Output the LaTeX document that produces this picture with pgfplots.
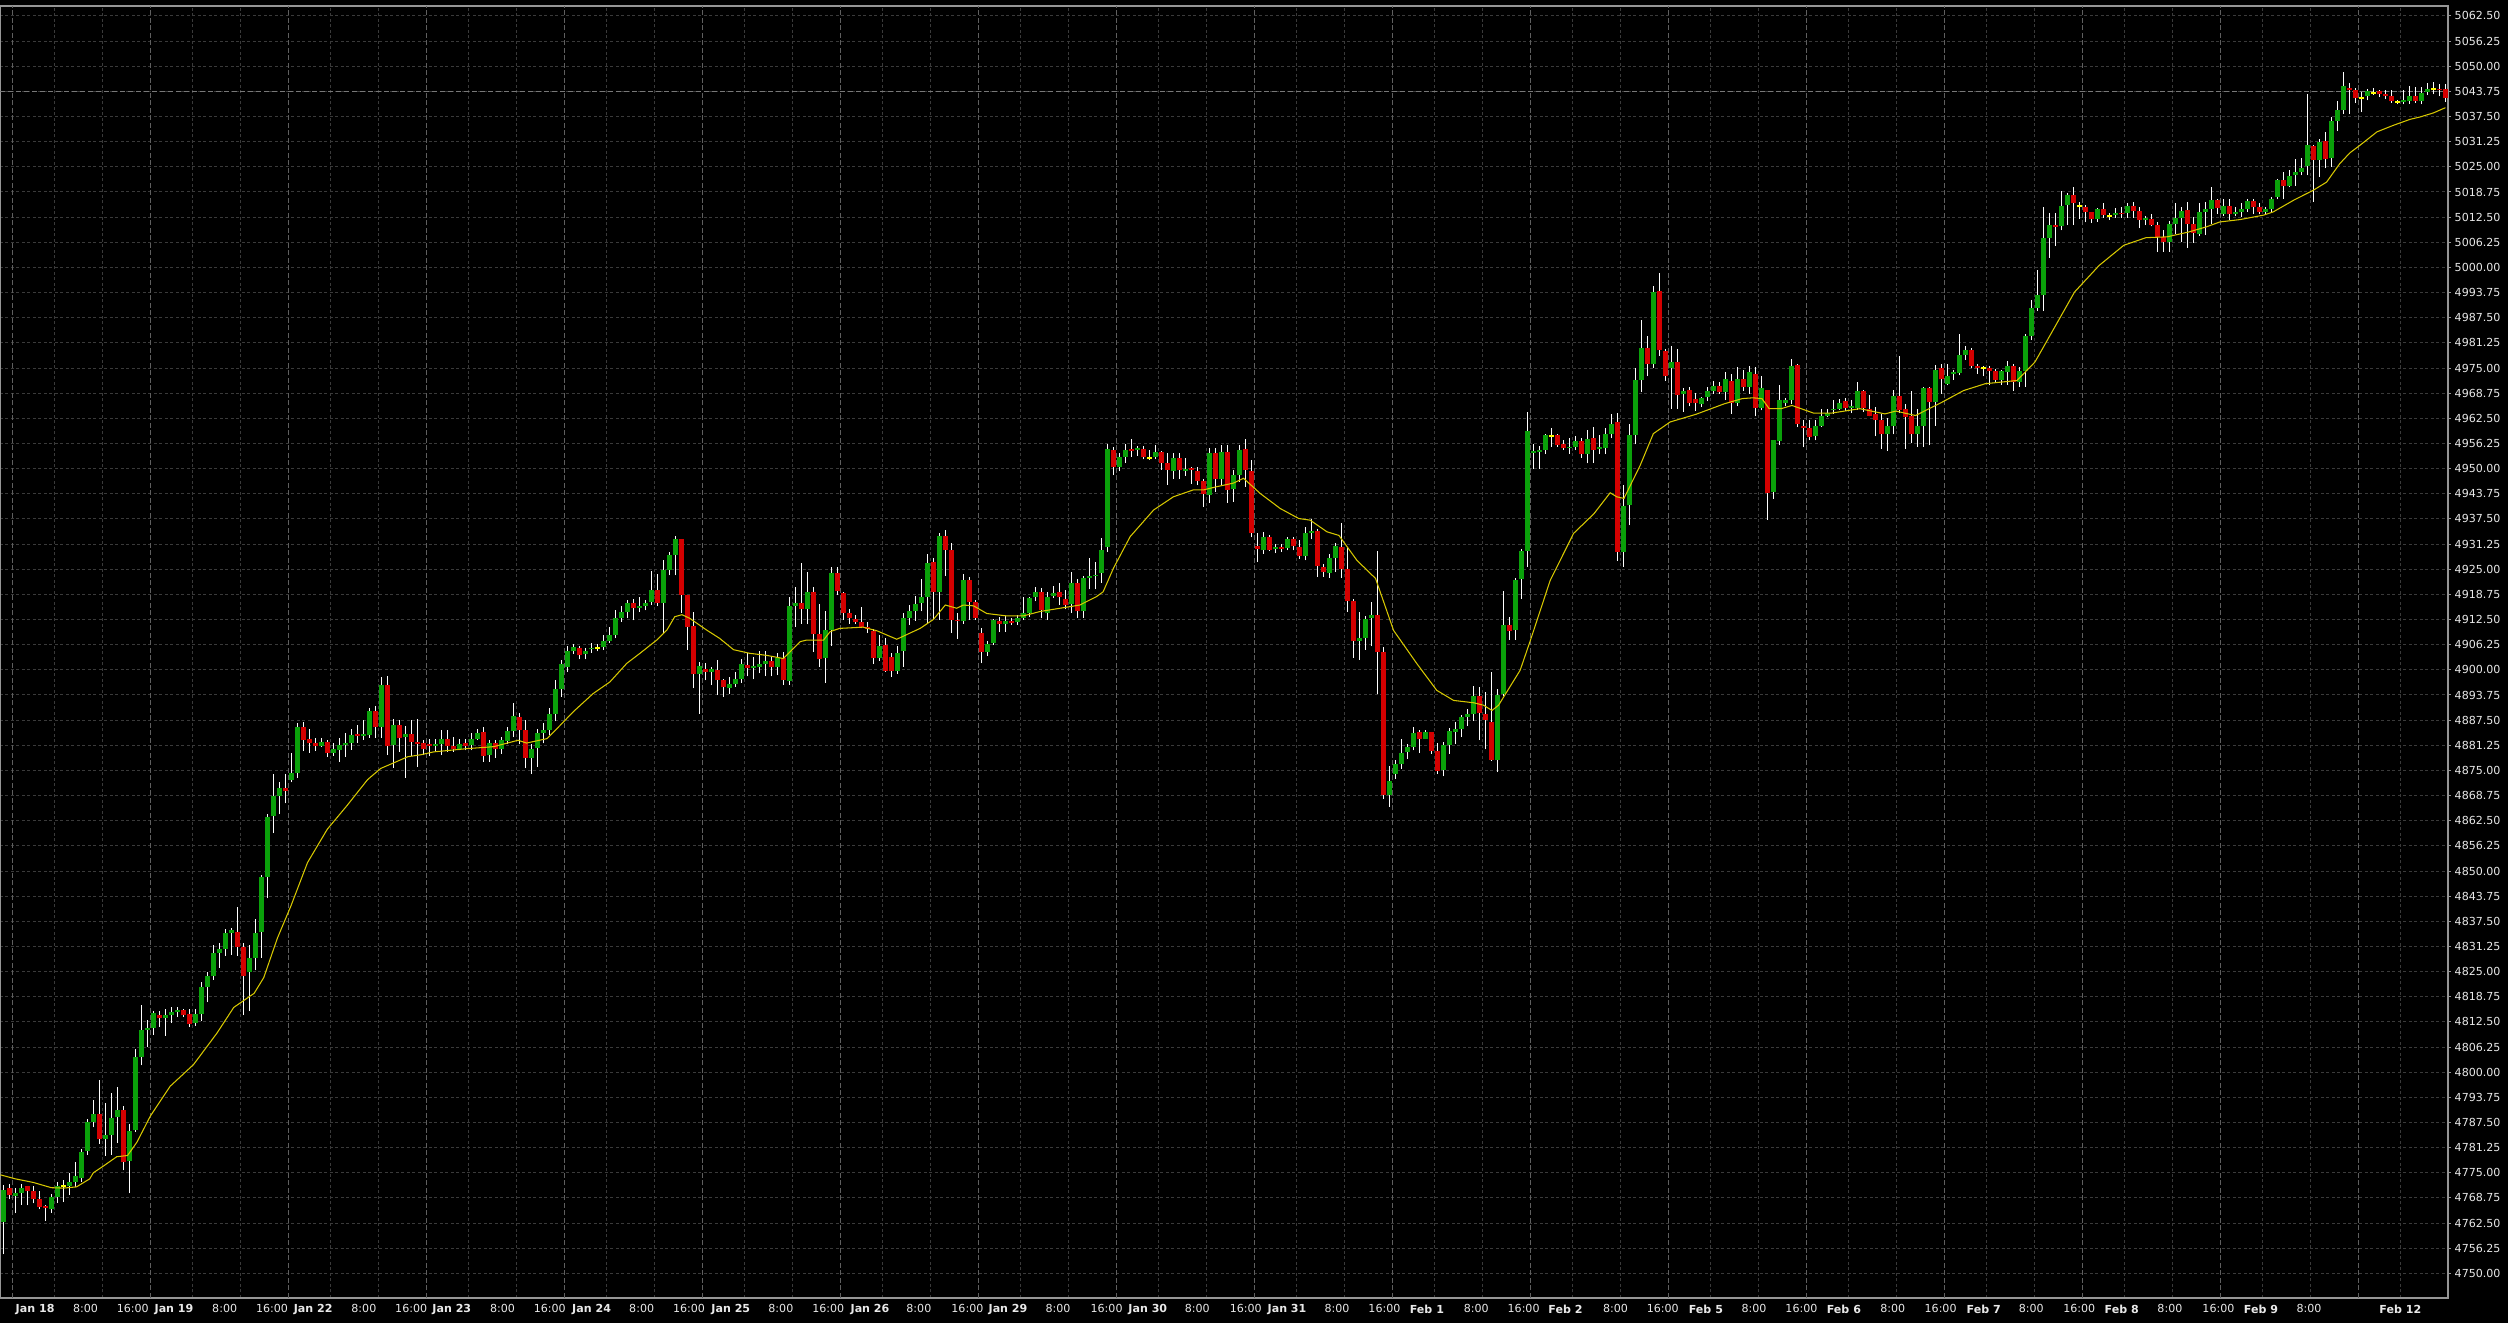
\documentclass[border=0pt]{standalone}
\usepackage{pgfplots}
\pgfplotsset{compat=1.18}
\usepackage{pgfplotstable}
\usepackage{fontspec}
\setmainfont{DejaVu Sans}
\definecolor{bull}{RGB}{10,160,10}
\definecolor{bear}{RGB}{212,0,0}
\definecolor{doji}{RGB}{255,255,0}
\definecolor{maline}{RGB}{215,200,0}
\definecolor{frame}{RGB}{150,150,150}
\definecolor{griddim}{RGB}{58,58,58}
\definecolor{gridday}{RGB}{95,95,95}
\definecolor{bidline}{RGB}{120,120,120}
\definecolor{txt}{RGB}{232,232,232}

\pgfplotstableread{
x O H L C
0 4762.7 4772.0 4754.7 4770.8
1 4771.2 4772.1 4768.4 4769.6
2 4769.2 4771.2 4765.0 4769.9
3 4770.0 4772.1 4767.1 4771.3
4 4771.6 4771.8 4766.9 4770.4
5 4770.4 4771.6 4767.4 4768.6
6 4768.6 4770.4 4765.9 4766.5
7 4766.7 4767.0 4763.1 4766.2
8 4766.1 4769.8 4765.1 4769.1
9 4769.1 4772.8 4767.6 4771.8
10 4771.6 4773.1 4767.7 4771.6
11 4771.8 4775.0 4769.6 4772.6
12 4772.8 4777.8 4771.4 4774.2
13 4773.7 4781.0 4772.7 4780.1
14 4780.3 4788.4 4779.5 4787.6
15 4787.6 4793.0 4786.3 4789.5
16 4789.5 4798.0 4782.2 4783.3
17 4783.3 4792.3 4779.3 4784.5
18 4784.5 4794.8 4779.5 4788.5
19 4788.8 4796.4 4782.4 4790.5
20 4790.7 4791.5 4775.6 4777.6
21 4777.9 4787.2 4769.9 4785.5
22 4785.6 4805.8 4785.1 4803.8
23 4803.8 4816.8 4801.7 4810.5
24 4810.5 4812.9 4806.3 4811.1
25 4811.0 4815.2 4809.3 4814.7
26 4814.2 4815.2 4811.2 4813.4
27 4813.4 4815.6 4809.0 4814.2
28 4814.2 4816.3 4812.2 4814.9
29 4814.9 4816.3 4813.7 4815.4
30 4815.4 4815.8 4813.7 4814.2
31 4814.4 4815.6 4811.2 4812.0
32 4812.2 4815.6 4811.5 4814.4
33 4814.4 4822.5 4812.7 4821.1
34 4821.1 4825.0 4817.4 4824.0
35 4824.0 4831.6 4823.0 4829.7
36 4829.7 4832.2 4826.0 4830.6
37 4830.6 4835.5 4828.9 4834.5
38 4834.5 4835.8 4829.2 4835.3
39 4834.9 4841.0 4828.9 4831.2
40 4831.2 4832.2 4814.2 4823.8
41 4824.8 4831.6 4815.2 4828.4
42 4828.4 4838.1 4825.3 4834.5
43 4834.8 4849.1 4828.4 4848.5
44 4848.5 4864.1 4843.2 4863.4
45 4863.7 4874.0 4859.4 4868.6
46 4868.6 4872.2 4864.1 4870.6
47 4870.6 4874.0 4866.8 4869.8
48 4872.7 4879.3 4872.0 4874.4
49 4874.4 4886.7 4873.1 4885.7
50 4885.7 4887.0 4879.8 4882.6
51 4882.9 4885.2 4879.4 4881.9
52 4881.8 4883.1 4879.8 4881.1
53 4881.1 4883.1 4880.8 4882.1
54 4882.1 4882.6 4878.4 4879.3
55 4879.3 4881.9 4878.6 4880.3
56 4880.1 4883.1 4877.2 4881.4
57 4881.4 4884.3 4878.4 4881.9
58 4881.9 4885.3 4880.1 4883.9
59 4884.1 4886.3 4881.9 4883.6
60 4883.6 4887.5 4882.6 4884.1
61 4883.9 4890.5 4883.1 4889.7
62 4889.7 4890.9 4883.1 4885.8
63 4885.8 4898.3 4883.1 4896.2
64 4896.2 4898.5 4878.8 4881.1
65 4881.3 4887.7 4875.7 4886.3
66 4886.3 4887.5 4879.6 4883.1
67 4883.4 4886.0 4873.2 4884.1
68 4884.1 4887.5 4878.6 4882.1
69 4882.1 4887.9 4875.9 4881.6
70 4881.7 4882.5 4878.8 4880.3
71 4881.5 4882.9 4878.5 4881.1
72 4881.1 4882.9 4879.6 4881.5
73 4881.5 4885.0 4878.8 4882.9
74 4882.9 4885.0 4879.6 4881.1
75 4881.1 4883.3 4879.6 4880.3
76 4880.3 4882.9 4880.0 4881.5
77 4881.7 4882.9 4880.0 4881.1
78 4881.3 4884.2 4880.0 4882.8
79 4882.9 4885.2 4882.5 4884.2
80 4884.6 4885.7 4877.1 4878.6
81 4878.8 4882.5 4877.1 4881.7
82 4881.7 4882.5 4878.2 4880.2
83 4880.3 4883.3 4879.2 4882.5
84 4882.3 4885.8 4881.5 4884.7
85 4884.7 4891.8 4883.3 4888.5
86 4888.3 4889.3 4881.5 4885.0
87 4885.0 4887.6 4875.5 4878.1
88 4878.1 4881.5 4874.1 4880.3
89 4880.6 4885.2 4875.9 4884.2
90 4884.2 4886.8 4881.7 4885.0
91 4885.0 4890.4 4883.7 4889.0
92 4889.0 4897.4 4887.2 4895.2
93 4895.2 4902.4 4893.3 4901.4
94 4900.6 4905.9 4899.5 4904.6
95 4904.6 4906.4 4903.9 4905.7
96 4905.5 4905.9 4902.6 4903.6
97 4903.9 4905.5 4902.6 4904.6
98 4905.1 4906.7 4904.2 4905.5
99 4905.5 4906.4 4904.6 4905.5
100 4905.7 4908.6 4905.0 4907.1
101 4907.1 4910.7 4906.7 4908.6
102 4908.6 4914.8 4907.8 4912.8
103 4912.9 4915.8 4911.9 4914.3
104 4914.3 4917.3 4912.8 4916.5
105 4916.5 4917.7 4912.3 4915.4
106 4915.4 4918.0 4914.4 4915.8
107 4915.9 4917.3 4914.8 4916.5
108 4916.9 4924.6 4916.1 4919.8
109 4919.8 4923.8 4915.8 4916.5
110 4916.5 4927.4 4909.0 4924.9
111 4924.9 4929.3 4923.5 4928.5
112 4928.5 4933.2 4923.5 4932.4
113 4932.4 4932.6 4914.2 4918.6
114 4918.6 4918.6 4904.9 4910.7
115 4910.8 4914.4 4895.4 4898.9
116 4898.9 4902.0 4889.1 4901.0
117 4900.1 4901.6 4897.4 4899.5
118 4899.5 4900.7 4896.2 4900.1
119 4899.9 4902.4 4893.7 4897.4
120 4897.4 4897.6 4893.3 4895.8
121 4895.4 4898.3 4894.1 4896.6
122 4896.6 4899.5 4895.8 4897.7
123 4897.8 4902.6 4896.8 4901.4
124 4901.2 4904.2 4898.4 4900.5
125 4900.5 4903.2 4897.6 4900.9
126 4900.7 4904.7 4899.1 4901.4
127 4901.5 4904.6 4898.4 4902.1
128 4902.1 4903.4 4898.4 4900.7
129 4900.7 4904.1 4898.7 4903.0
130 4903.0 4904.5 4896.2 4897.4
131 4897.3 4918.0 4896.2 4915.8
132 4915.8 4920.6 4910.7 4916.5
133 4916.5 4926.6 4911.5 4915.0
134 4915.0 4924.4 4911.3 4919.4
135 4919.4 4920.6 4904.5 4908.9
136 4908.9 4916.3 4900.7 4902.6
137 4903.0 4914.7 4896.8 4909.9
138 4909.9 4925.6 4905.9 4924.0
139 4924.0 4925.6 4918.6 4919.7
140 4919.2 4919.4 4912.4 4914.2
141 4914.2 4915.0 4911.5 4913.0
142 4912.6 4913.6 4911.4 4912.0
143 4912.0 4915.7 4910.3 4910.7
144 4910.7 4912.0 4909.1 4910.1
145 4909.7 4910.1 4901.4 4902.9
146 4903.0 4908.6 4902.3 4905.9
147 4906.2 4907.8 4899.5 4899.8
148 4903.1 4904.3 4898.3 4899.8
149 4899.8 4905.8 4899.0 4904.3
150 4904.8 4914.2 4900.8 4912.8
151 4912.8 4916.1 4911.1 4914.5
152 4914.5 4918.3 4912.2 4916.3
153 4916.5 4922.5 4914.5 4918.0
154 4918.2 4928.7 4911.7 4926.5
155 4926.7 4927.7 4912.5 4919.4
156 4919.4 4933.9 4912.5 4933.3
157 4933.3 4934.7 4923.3 4929.9
158 4929.9 4931.6 4909.2 4912.5
159 4912.5 4914.0 4907.6 4912.1
160 4912.1 4923.8 4911.4 4922.3
161 4922.3 4923.1 4912.5 4916.9
162 4916.9 4917.3 4912.5 4913.0
163 4909.1 4910.3 4901.6 4904.5
164 4904.5 4907.2 4903.4 4906.4
165 4906.7 4912.6 4906.2 4912.4
166 4912.1 4913.2 4909.5 4911.5
167 4911.5 4913.3 4909.5 4912.1
168 4912.1 4912.8 4911.1 4911.7
169 4912.0 4913.6 4911.1 4913.0
170 4913.0 4918.2 4912.5 4914.0
171 4914.0 4918.2 4913.2 4917.8
172 4918.2 4920.5 4917.0 4919.4
173 4919.3 4920.3 4912.8 4914.9
174 4914.0 4919.4 4912.4 4918.2
175 4918.4 4920.9 4917.8 4919.0
176 4919.3 4921.5 4916.1 4918.0
177 4917.5 4919.8 4915.0 4916.1
178 4916.3 4924.4 4914.2 4921.7
179 4921.7 4922.5 4913.0 4914.5
180 4914.7 4923.3 4913.0 4922.7
181 4922.7 4927.7 4920.0 4923.3
182 4923.2 4926.9 4920.0 4923.6
183 4924.0 4932.7 4921.7 4929.9
184 4930.6 4956.1 4929.4 4954.8
185 4954.6 4955.5 4948.4 4950.5
186 4950.3 4953.8 4949.3 4952.8
187 4953.0 4956.1 4951.5 4954.6
188 4954.9 4957.3 4953.0 4954.5
189 4954.6 4955.6 4953.2 4955.1
190 4954.8 4955.6 4952.3 4953.0
191 4952.6 4954.6 4952.2 4952.6
192 4953.0 4955.9 4952.3 4954.2
193 4954.2 4954.5 4949.7 4951.3
194 4951.3 4953.8 4946.0 4949.7
195 4949.5 4953.8 4947.4 4952.6
196 4952.7 4953.8 4947.4 4949.7
197 4949.5 4952.6 4948.2 4949.8
198 4950.1 4950.5 4946.2 4949.7
199 4949.4 4950.5 4945.9 4947.0
200 4946.9 4947.3 4940.5 4943.7
201 4943.5 4955.1 4941.5 4954.0
202 4954.0 4955.1 4944.3 4947.3
203 4947.3 4955.9 4945.7 4954.2
204 4954.2 4955.9 4941.5 4944.7
205 4944.9 4949.7 4941.8 4948.4
206 4948.4 4955.9 4946.8 4954.6
207 4954.8 4957.3 4945.5 4949.7
208 4949.3 4952.1 4932.9 4933.9
209 4930.7 4933.9 4926.8 4930.1
210 4929.7 4934.3 4928.9 4933.0
211 4933.0 4933.4 4929.5 4929.9
212 4930.0 4931.2 4929.0 4930.5
213 4930.5 4931.2 4929.3 4930.0
214 4930.2 4933.0 4929.7 4932.4
215 4932.4 4932.9 4929.7 4930.8
216 4930.4 4932.2 4927.6 4928.2
217 4928.2 4935.5 4927.2 4933.9
218 4933.9 4937.6 4932.4 4934.6
219 4934.4 4935.1 4923.1 4925.8
220 4925.6 4926.4 4923.1 4924.3
221 4924.1 4928.9 4922.8 4927.7
222 4927.7 4931.4 4924.3 4930.7
223 4930.5 4936.5 4922.9 4925.0
224 4925.0 4930.5 4914.4 4917.1
225 4917.0 4917.7 4903.0 4907.2
226 4907.2 4914.4 4902.5 4908.0
227 4908.0 4913.5 4905.0 4912.7
228 4912.9 4916.9 4905.8 4913.7
229 4913.7 4929.5 4893.9 4904.4
230 4904.4 4905.7 4868.0 4868.8
231 4868.8 4876.0 4865.9 4872.3
232 4874.1 4877.5 4872.9 4876.7
233 4876.7 4882.9 4875.4 4879.3
234 4879.5 4881.6 4877.9 4880.8
235 4880.8 4885.9 4880.0 4884.3
236 4884.5 4885.0 4879.3 4882.9
237 4882.9 4885.0 4882.9 4884.5
238 4884.5 4884.5 4879.2 4879.8
239 4879.8 4881.8 4874.2 4874.8
240 4875.2 4882.1 4873.5 4881.2
241 4881.2 4885.5 4879.2 4884.7
242 4884.5 4887.0 4881.6 4885.4
243 4885.4 4888.7 4883.3 4888.4
244 4888.4 4890.3 4886.0 4889.1
245 4889.1 4896.1 4887.3 4893.4
246 4893.4 4895.7 4882.5 4889.3
247 4889.1 4894.5 4880.2 4887.6
248 4887.0 4899.5 4877.3 4877.7
249 4877.5 4895.3 4874.6 4893.7
250 4893.9 4919.6 4893.4 4911.1
251 4911.1 4913.1 4907.5 4909.7
252 4909.8 4922.7 4907.5 4922.3
253 4922.5 4930.1 4917.7 4929.5
254 4929.5 4964.1 4925.6 4959.4
255 4954.0 4956.2 4950.0 4954.3
256 4954.2 4955.6 4950.0 4954.6
257 4954.6 4958.7 4953.6 4958.3
258 4958.2 4960.0 4955.4 4958.2
259 4958.3 4958.7 4955.4 4955.8
260 4956.1 4957.2 4954.7 4955.2
261 4955.2 4957.5 4953.7 4955.5
262 4955.4 4958.1 4954.6 4956.9
263 4956.9 4957.5 4952.7 4953.6
264 4953.6 4959.7 4951.3 4957.3
265 4957.5 4960.4 4951.4 4954.7
266 4955.0 4958.3 4953.6 4955.3
267 4955.2 4960.0 4953.6 4958.7
268 4958.7 4963.5 4957.5 4961.2
269 4961.5 4963.9 4927.1 4929.3
270 4929.3 4945.9 4925.6 4940.6
271 4940.9 4961.2 4935.9 4958.3
272 4958.3 4975.0 4956.0 4972.0
273 4972.0 4987.0 4969.0 4980.0
274 4980.0 4983.0 4973.0 4976.0
275 4976.0 4995.5 4975.0 4994.0
276 4994.1 4998.5 4978.0 4979.4
277 4979.2 4979.8 4971.8 4972.9
278 4975.1 4980.6 4964.9 4976.5
279 4976.5 4979.8 4964.9 4968.2
280 4968.6 4970.1 4964.1 4969.4
281 4969.6 4970.3 4965.5 4966.3
282 4967.4 4968.9 4964.3 4966.3
283 4966.0 4967.8 4965.3 4967.5
284 4967.8 4970.3 4966.8 4969.2
285 4969.3 4971.8 4968.6 4970.6
286 4970.6 4971.5 4968.6 4969.0
287 4969.0 4973.9 4967.0 4972.2
288 4971.9 4973.4 4963.6 4966.3
289 4966.3 4975.2 4965.5 4972.2
290 4972.2 4974.4 4969.4 4970.4
291 4970.4 4975.4 4968.6 4973.9
292 4973.6 4975.2 4963.0 4965.1
293 4965.1 4972.9 4964.5 4970.1
294 4969.6 4969.6 4937.3 4943.9
295 4944.2 4957.2 4942.5 4957.0
296 4956.8 4970.9 4955.8 4967.1
297 4966.3 4967.5 4965.5 4967.0
298 4967.0 4977.3 4966.0 4975.4
299 4975.7 4975.9 4960.3 4961.2
300 4960.7 4962.1 4955.3 4960.1
301 4960.1 4962.0 4957.0 4957.8
302 4958.0 4962.0 4957.0 4960.7
303 4960.7 4964.9 4960.3 4963.2
304 4963.2 4964.9 4962.8 4963.8
305 4964.5 4967.1 4963.6 4964.9
306 4964.9 4967.2 4964.6 4966.4
307 4966.7 4967.5 4964.4 4965.1
308 4965.1 4967.1 4963.8 4965.5
309 4965.1 4971.5 4964.6 4969.2
310 4969.4 4969.6 4964.1 4965.1
311 4964.9 4968.4 4963.0 4963.2
312 4963.5 4965.3 4958.0 4962.0
313 4962.0 4963.6 4954.9 4958.5
314 4958.5 4962.6 4954.5 4960.5
315 4960.5 4969.6 4958.5 4968.1
316 4968.1 4978.1 4963.8 4964.6
317 4964.9 4966.0 4954.9 4962.8
318 4963.0 4969.3 4956.3 4958.5
319 4958.5 4964.9 4955.5 4960.7
320 4960.7 4970.4 4955.5 4970.1
321 4970.1 4970.4 4955.8 4966.5
322 4966.5 4975.7 4960.7 4974.6
323 4975.1 4975.9 4968.6 4972.2
324 4971.1 4975.9 4970.7 4973.1
325 4973.4 4974.6 4972.1 4973.9
326 4973.8 4983.4 4973.2 4978.3
327 4978.2 4980.4 4977.1 4979.6
328 4979.4 4980.1 4975.1 4975.4
329 4975.4 4975.9 4973.6 4975.0
330 4975.0 4975.6 4972.9 4975.0
331 4975.1 4975.6 4970.7 4974.3
332 4974.3 4974.8 4971.3 4972.1
333 4972.1 4974.6 4970.9 4974.3
334 4974.0 4976.7 4970.9 4975.4
335 4975.4 4976.1 4969.4 4971.5
336 4971.5 4975.2 4970.4 4974.3
337 4974.3 4983.5 4970.4 4982.9
338 4982.9 4992.0 4981.9 4990.0
339 4990.0 4999.3 4989.2 4993.2
340 4993.1 5015.0 4989.2 5007.2
341 5007.2 5013.6 5002.4 5010.5
342 5010.5 5013.6 5005.3 5010.1
343 5010.2 5018.9 5009.2 5015.2
344 5015.5 5018.4 5010.5 5018.0
345 5018.0 5019.9 5010.5 5015.9
346 5015.2 5016.3 5012.1 5015.2
347 5014.9 5015.5 5011.2 5013.8
348 5013.8 5013.9 5011.0 5012.0
349 5012.0 5014.8 5011.4 5014.6
350 5014.4 5015.9 5012.4 5013.0
351 5012.7 5013.5 5011.9 5012.7
352 5013.0 5014.8 5012.3 5013.6
353 5013.6 5015.1 5012.3 5013.2
354 5013.6 5015.9 5012.3 5015.2
355 5015.2 5016.3 5012.3 5014.1
356 5014.1 5015.0 5009.7 5011.9
357 5011.9 5012.7 5010.5 5012.3
358 5012.1 5013.3 5010.2 5010.5
359 5010.5 5011.3 5003.9 5007.6
360 5007.6 5009.3 5003.9 5006.3
361 5006.3 5011.5 5003.9 5010.7
362 5010.7 5016.0 5008.4 5012.4
363 5012.4 5015.0 5006.3 5014.1
364 5014.2 5016.3 5004.9 5010.7
365 5010.7 5012.6 5006.1 5008.6
366 5008.4 5016.0 5007.8 5013.8
367 5013.8 5016.3 5008.0 5014.6
368 5014.6 5019.9 5010.9 5016.7
369 5016.7 5017.1 5013.4 5014.8
370 5013.4 5017.1 5012.8 5015.2
371 5015.2 5017.1 5011.7 5013.2
372 5013.2 5014.9 5012.7 5013.7
373 5013.7 5016.0 5012.5 5014.4
374 5014.4 5017.1 5013.8 5016.4
375 5016.4 5016.9 5013.2 5015.0
376 5015.0 5015.9 5013.2 5013.8
377 5013.8 5015.0 5013.4 5014.4
378 5014.4 5017.5 5013.8 5017.1
379 5017.5 5022.1 5016.9 5021.8
380 5021.8 5023.7 5017.1 5020.2
381 5020.2 5024.1 5019.9 5022.7
382 5022.9 5027.0 5020.2 5023.7
383 5023.7 5027.3 5022.9 5024.8
384 5025.1 5043.0 5022.9 5030.4
385 5030.1 5030.4 5016.3 5026.6
386 5026.6 5031.8 5022.5 5031.2
387 5031.4 5033.7 5024.6 5027.0
388 5027.3 5037.4 5025.0 5036.3
389 5036.3 5041.3 5033.9 5039.1
390 5039.1 5048.6 5038.1 5045.0
391 5044.7 5045.9 5038.1 5044.0
392 5044.0 5044.6 5040.9 5042.2
393 5042.1 5043.6 5038.6 5042.1
394 5042.6 5044.4 5041.5 5043.8
395 5043.4 5044.7 5042.8 5043.4
396 5043.8 5044.1 5042.3 5043.0
397 5043.0 5044.1 5041.8 5042.6
398 5042.5 5044.2 5040.9 5041.3
399 5041.1 5041.6 5040.5 5041.1
400 5041.1 5044.2 5040.5 5041.5
401 5041.3 5045.0 5040.7 5042.5
402 5042.5 5044.9 5040.9 5041.3
403 5041.4 5044.9 5040.5 5043.4
404 5043.6 5045.9 5042.8 5044.4
405 5044.3 5046.1 5043.0 5044.3
406 5044.4 5045.7 5042.5 5044.0
407 5044.3 5045.5 5041.1 5042.2
}\candles

\begin{document}
\begin{tikzpicture}[
  daylab/.style={anchor=north west, inner sep=0pt, yshift=-0.6mm, font=\fontsize{3.15}{3.8}\selectfont\bfseries, text=txt},
  hourlab/.style={anchor=north west, inner sep=0pt, yshift=-0.6mm, font=\fontsize{3.15}{3.8}\selectfont, text=txt}]
\path[use as bounding box, fill=black] (0,0) rectangle (250.8mm,132.3mm);
\begin{axis}[
  at={(0mm,2.5mm)}, anchor=south west,
  scale only axis, width=244.8mm, height=129.2mm,
  xmin=-0.555, xmax=407.44, ymin=4743.9, ymax=5064.99,
  clip mode=individual,
  axis line style={draw=frame, line width=0.12mm},
  xtick={8.45,31.45,54.45,77.45,100.45,123.45,146.45,169.45,192.45,215.45,238.45,261.45,284.45,307.45,330.45,353.45,376.45,399.45,16.45,39.45,62.45,85.45,108.45,131.45,154.45,177.45,200.45,223.45,246.45,269.45,292.45,315.45,338.45,361.45,384.45},
  xticklabels={},
  xtick style={draw=none},
  xmajorgrids,
  major x grid style={draw=griddim, line width=0.1mm, dash pattern=on 0.3mm off 0.25mm},
  extra x ticks={1.45,24.45,47.45,70.45,93.45,116.45,139.45,162.45,185.45,208.45,231.45,254.45,277.45,300.45,323.45,346.45,369.45,392.45},
  extra x tick labels={},
  extra x tick style={grid=major, major x grid style={draw=gridday, line width=0.1mm, dash pattern=on 0.5mm off 0.25mm}, xtick style={draw=none}},
  ytick distance=6.25,
  ymajorgrids,
  major y grid style={draw=griddim, line width=0.1mm, dash pattern=on 0.3mm off 0.25mm},
  ytick pos=right, yticklabel pos=right,
  tick align=outside, major tick length=0.3mm,
  ytick style={draw=frame, line width=0.1mm},
  scaled y ticks=false,
  yticklabel style={font=\fontsize{3.15}{3.8}\selectfont, color=txt, inner sep=0.3mm,
    /pgf/number format/.cd, fixed, fixed zerofill, precision=2, 1000 sep={}, assume math mode=true},
]
% bid line
\addplot[draw=bidline, line width=0.1mm, dash pattern=on 0.5mm off 0.3mm] coordinates {(-0.555,5043.75) (407.44,5043.75)};
% wicks: segment from low to high
\addplot[draw=white, line width=0.1mm, -, quiver={u=0, v=\thisrow{H}-\thisrow{L}}]
  table[x=x, y=L] {\candles};
% bull bodies (rows that are not bullish are placed far below the axis)
\addplot[draw=bull, line width=0.48mm, -, quiver={u=0, v={\thisrow{C}>\thisrow{O} ? \thisrow{C}-\thisrow{O} : 0.1}}]
  table[x=x, y expr={\thisrow{C}>\thisrow{O} ? \thisrow{O} : 4000}] {\candles};
% bear bodies
\addplot[draw=bear, line width=0.48mm, -, quiver={u=0, v={\thisrow{O}>\thisrow{C} ? \thisrow{O}-\thisrow{C} : 0.1}}]
  table[x=x, y expr={\thisrow{O}>\thisrow{C} ? \thisrow{C} : 4000}] {\candles};
% doji
\addplot[draw=doji, line width=0.48mm, -, quiver={u=0, v=0.5}]
  table[x=x, y expr={abs(\thisrow{C}-\thisrow{O})<0.005 ? \thisrow{O}-0.25 : 4000}] {\candles};
% moving average
\addplot[draw=maline, line width=0.3pt] coordinates {
(-0.5,4774.5) (2,4773.5) (5,4772.6) (8,4771.3) (10,4771.2) (12.2,4771.5) (14.4,4773.5) (15,4775.0) (16.7,4776.7) (18.9,4779.0) (20.7,4779.3) (21.7,4781.4) (22.3,4782.7) (24.5,4789.1) (27.8,4796.5) (31.7,4801.9) (35.6,4809.7) (38.4,4816.1) (41.8,4819.6) (43.4,4823.5) (45.7,4833.4) (47.9,4841.2) (50.7,4852.1) (54.0,4860.4) (57.3,4866.3) (60.7,4872.7) (62.9,4875.5) (65.1,4876.9) (67.4,4878.4) (69.6,4878.9) (71.7,4879.6) (77.2,4880.4) (81.7,4880.9) (85.8,4882.5) (87.2,4881.8) (90.6,4882.9) (92.8,4886.2) (95.0,4889.6) (98.3,4894.1) (101.1,4897.0) (103.9,4901.6) (106.1,4904.1) (108.9,4907.4) (110.6,4909.9) (111.9,4913.2) (113.1,4913.7) (114.4,4912.8) (117.2,4909.9) (119.4,4907.8) (121.7,4905.0) (124.4,4904.1) (127.2,4903.6) (130.0,4902.8) (132.8,4907.0) (133.9,4907.4) (136.7,4907.4) (137.8,4909.5) (139.4,4910.3) (143.3,4910.6) (145.6,4909.7) (148.9,4907.6) (152.8,4910.3) (155,4912.5) (157,4916.1) (158.9,4915.3) (160,4916.1) (161.7,4915.9) (163.9,4914.0) (167.2,4913.4) (170,4913.4) (172.8,4914.5) (176.1,4915.3) (179.4,4916.1) (182.2,4918.2) (183.3,4919.4) (185,4925.2) (187.8,4933.1) (191.7,4939.7) (195,4943.0) (198.3,4944.7) (200,4944.7) (202.2,4945.5) (205,4946.4) (206.7,4947.6) (209.5,4943.8) (212.8,4940.1) (215.9,4937.6) (217.8,4937.2) (220.6,4934.3) (222.6,4933.4) (225.6,4927.2) (228.7,4922.7) (231.7,4909.8) (235.6,4901.5) (238.9,4894.9) (241.7,4892.4) (245.1,4891.8) (246.7,4891.2) (248.1,4889.9) (249.2,4891.2) (252.8,4899.9) (254.5,4907.3) (257.8,4922.2) (261.7,4933.9) (265.1,4938.8) (267.8,4944.0) (268.9,4943.0) (270.1,4942.6) (272.8,4950.8) (275,4958.7) (277.8,4961.6) (282.1,4963.5) (286.8,4966.1) (289.8,4967.4) (291.6,4967.6) (293.1,4967.4) (294.3,4964.9) (296.3,4964.9) (298.1,4965.7) (301.7,4963.8) (304.7,4963.8) (309.4,4964.9) (313.6,4963.6) (315.4,4964.3) (318.7,4963.2) (323.1,4966.5) (326.7,4969.4) (330.3,4971.1) (335.6,4971.9) (338.6,4976.5) (341.6,4984.4) (345.2,4993.9) (349.3,5000.5) (353.4,5005.5) (357.1,5007.4) (360.6,5007.6) (364.2,5008.8) (367.2,5010.1) (369.4,5011.3) (372.8,5011.9) (376.7,5013.0) (378.3,5013.8) (381.7,5016.7) (385,5019.2) (387.2,5021.2) (389.4,5025.8) (391.1,5028.5) (392.8,5030.4) (395.6,5033.7) (398.3,5035.3) (401.1,5036.8) (402.8,5037.4) (405,5038.4) (407,5039.7)
};
% time labels
\node[daylab] at (axis cs:1.95,4743.9) {Jan 18};
\node[daylab] at (axis cs:25.1,4743.9) {Jan 19};
\node[daylab] at (axis cs:48.3,4743.9) {Jan 22};
\node[daylab] at (axis cs:71.4,4743.9) {Jan 23};
\node[daylab] at (axis cs:94.7,4743.9) {Jan 24};
\node[daylab] at (axis cs:117.9,4743.9) {Jan 25};
\node[daylab] at (axis cs:141.1,4743.9) {Jan 26};
\node[daylab] at (axis cs:164.1,4743.9) {Jan 29};
\node[daylab] at (axis cs:187.4,4743.9) {Jan 30};
\node[daylab] at (axis cs:210.6,4743.9) {Jan 31};
\node[daylab] at (axis cs:234.3,4743.9) {Feb 1};
\node[daylab] at (axis cs:257.4,4743.9) {Feb 2};
\node[daylab] at (axis cs:280.8,4743.9) {Feb 5};
\node[daylab] at (axis cs:303.8,4743.9) {Feb 6};
\node[daylab] at (axis cs:327.1,4743.9) {Feb 7};
\node[daylab] at (axis cs:350.1,4743.9) {Feb 8};
\node[daylab] at (axis cs:373.3,4743.9) {Feb 9};
\node[daylab] at (axis cs:395.9,4743.9) {Feb 12};
\node[hourlab] at (axis cs:11.5,4743.9) {8:00};
\node[hourlab] at (axis cs:34.7,4743.9) {8:00};
\node[hourlab] at (axis cs:57.9,4743.9) {8:00};
\node[hourlab] at (axis cs:81.0,4743.9) {8:00};
\node[hourlab] at (axis cs:104.2,4743.9) {8:00};
\node[hourlab] at (axis cs:127.4,4743.9) {8:00};
\node[hourlab] at (axis cs:150.4,4743.9) {8:00};
\node[hourlab] at (axis cs:173.6,4743.9) {8:00};
\node[hourlab] at (axis cs:196.8,4743.9) {8:00};
\node[hourlab] at (axis cs:220.1,4743.9) {8:00};
\node[hourlab] at (axis cs:243.3,4743.9) {8:00};
\node[hourlab] at (axis cs:266.5,4743.9) {8:00};
\node[hourlab] at (axis cs:289.6,4743.9) {8:00};
\node[hourlab] at (axis cs:312.7,4743.9) {8:00};
\node[hourlab] at (axis cs:335.8,4743.9) {8:00};
\node[hourlab] at (axis cs:358.9,4743.9) {8:00};
\node[hourlab] at (axis cs:382.1,4743.9) {8:00};
\node[hourlab] at (axis cs:18.8,4743.9) {16:00};
\node[hourlab] at (axis cs:42.0,4743.9) {16:00};
\node[hourlab] at (axis cs:65.2,4743.9) {16:00};
\node[hourlab] at (axis cs:88.3,4743.9) {16:00};
\node[hourlab] at (axis cs:111.5,4743.9) {16:00};
\node[hourlab] at (axis cs:134.7,4743.9) {16:00};
\node[hourlab] at (axis cs:157.9,4743.9) {16:00};
\node[hourlab] at (axis cs:181.1,4743.9) {16:00};
\node[hourlab] at (axis cs:204.3,4743.9) {16:00};
\node[hourlab] at (axis cs:227.4,4743.9) {16:00};
\node[hourlab] at (axis cs:250.6,4743.9) {16:00};
\node[hourlab] at (axis cs:273.8,4743.9) {16:00};
\node[hourlab] at (axis cs:296.9,4743.9) {16:00};
\node[hourlab] at (axis cs:320.1,4743.9) {16:00};
\node[hourlab] at (axis cs:343.2,4743.9) {16:00};
\node[hourlab] at (axis cs:366.4,4743.9) {16:00};
\end{axis}
\end{tikzpicture}
\end{document}
